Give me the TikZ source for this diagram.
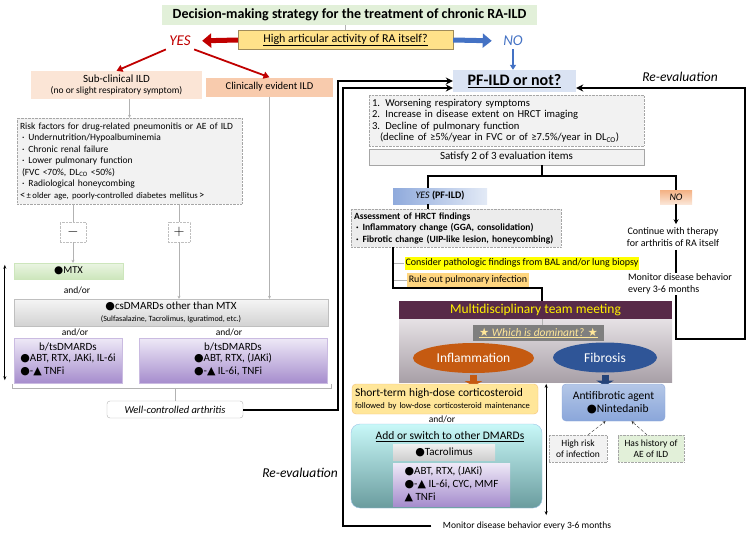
\documentclass[tikz,border=0pt]{standalone}
\usepackage{fontspec}
\setmainfont{Carlito}
\newfontfamily\symfont{DejaVu Sans}
\usetikzlibrary{arrows.meta, positioning, shapes.geometric}

\definecolor{titlegreen}{HTML}{E2F0D9}
\definecolor{qfill}{HTML}{FFE28A}
\definecolor{qdraw}{HTML}{A08C5A}
\definecolor{yesred}{HTML}{C00000}
\definecolor{noblue}{HTML}{4472C4}
\definecolor{subpeach}{HTML}{FBE5D6}
\definecolor{clinpeach}{HTML}{F8CBAD}
\definecolor{riskgray}{HTML}{F2F2F2}
\definecolor{mtxT}{HTML}{EAF5E2}
\definecolor{mtxB}{HTML}{CDE6BC}
\definecolor{purT}{HTML}{EEE9F7}
\definecolor{purB}{HTML}{A68DCD}
\definecolor{pfblue}{HTML}{DAE3F3}
\definecolor{yesL}{HTML}{8FAADC}
\definecolor{yesR}{HTML}{E3EAF6}
\definecolor{noT}{HTML}{F4B183}
\definecolor{noB}{HTML}{FBE5D6}
\definecolor{balyellow}{HTML}{FFFF00}
\definecolor{ruleorange}{HTML}{FFD680}
\definecolor{mdtplum}{HTML}{582A48}
\definecolor{mdtT}{HTML}{E6E1E5}
\definecolor{mdtB}{HTML}{A8A0A7}
\definecolor{whichgray}{HTML}{7F7F7F}
\definecolor{inflorange}{HTML}{C55A11}
\definecolor{fibblue}{HTML}{2F5597}
\definecolor{steroidfill}{HTML}{FFE699}
\definecolor{steroiddraw}{HTML}{F4C07A}
\definecolor{addT}{HTML}{C8F8F8}
\definecolor{addB}{HTML}{6A9C9E}
\definecolor{adddraw}{HTML}{9DC3E6}
\definecolor{antiT}{HTML}{B4C7E7}
\definecolor{antiB}{HTML}{8AA6DA}
\definecolor{histgreen}{HTML}{E2F0D9}

\newcommand{\circfill}{{\symfont ●}}
\newcommand{\trifill}{{\symfont ▲}}
\newcommand{\starsym}{{\symfont ★}}

\begin{document}
\begin{tikzpicture}[x=1pt, y=-1pt, >=Stealth, font=\fontsize{9.5}{11.5}\selectfont,
  thinline/.style={draw=gray!60, line width=0.6pt},
  thinarr/.style={thinline, -{Stealth[length=3pt, width=3pt]}},
  thick line/.style={line width=1.4pt},
  loopline/.style={line width=2pt, -{Stealth[length=7pt, width=7pt]}},
  dotbox/.style={draw=gray!70, densely dotted, fill=riskgray},
  purplebox/.style={draw=purB!60, top color=purT, bottom color=purB, inner sep=1pt, font=\fontsize{11}{13}\selectfont},
  bigarrow/.style={line width=5pt, -{Triangle[length=9pt, width=14pt]}, shorten >=8pt}]
\useasboundingbox (0,0) rectangle (749,533);

% Title and first question
\node[fill=titlegreen, minimum width=375pt, minimum height=20pt, font=\bfseries\fontsize{14}{16}\selectfont] (title) at (349.5,15) {Decision-making strategy for the treatment of chronic RA-ILD};
\node[draw=qdraw, fill=qfill, minimum width=215pt, minimum height=18pt, font=\fontsize{12}{14}\selectfont] (quest) at (345.5,40) {\underline{High articular activity of RA itself?}};
\node[text=yesred, font=\itshape\fontsize{15}{16}\selectfont] (yes) at (180,41) {YES};
\node[text=noblue, font=\itshape\fontsize{15}{16}\selectfont] (no) at (513,41) {NO};
\draw[gray!60] (quest.north) -- (title.south -| quest.north);
\draw[yesred, bigarrow] (quest.west) -- (yes.east);
\draw[noblue, bigarrow] (quest.east) -- (no.west);

% YES branch
\node[fill=subpeach, minimum width=171pt, minimum height=28pt, align=center, inner sep=1pt] (sub) at (116.5,85) {{\fontsize{11}{13}\selectfont Sub-clinical ILD}\\{\fontsize{9.5}{11}\selectfont (no or slight respiratory symptom)}};
\node[fill=clinpeach, minimum width=127pt, minimum height=19pt, font=\fontsize{10.5}{12}\selectfont] (clin) at (269.5,87) {Clinically evident ILD};
\draw[yesred, line width=1.8pt, -{Triangle[length=6pt, width=7pt]}] (yes.south west) -- (sub.north);
\draw[yesred, line width=1.8pt, -{Triangle[length=6pt, width=7pt]}] (yes.south east) -- (clin.north);

\node[dotbox, minimum width=225pt, minimum height=86pt, text width=219pt, align=left, inner sep=3pt] (risk) at (129.5,161) {Risk factors for drug-related pneumonitis or AE of ILD\\
\hspace*{2pt}·\hspace{4pt}Undernutrition/Hypoalbuminemia\\
\hspace*{2pt}·\hspace{4pt}Chronic renal failure\\
\hspace*{2pt}·\hspace{4pt}Lower pulmonary function\\
\hspace*{2pt}(FVC <70\%, DL\textsubscript{CO} <50\%)\\
\hspace*{2pt}·\hspace{4pt}Radiological honeycombing\\
{\fontsize{8.7}{10}\selectfont{\fontsize{10.5}{10}\selectfont<}\,±\,older age, poorly-controlled diabetes mellitus\,{\fontsize{10.5}{10}\selectfont>}}};
\draw[thinarr] (sub.south -| risk.north) -- (risk.north);

\node[draw=gray!50, densely dotted, fill=white, minimum width=26pt, minimum height=20pt, font=\fontsize{14}{14}\selectfont] (minus) at (73,232) {$-$};
\node[draw=gray!50, densely dotted, fill=white, minimum width=22pt, minimum height=20pt, font=\fontsize{14}{14}\selectfont] (plus) at (179,232) {$+$};

% Drugs for arthritis
\node[draw=mtxB, top color=mtxT, bottom color=mtxB, minimum width=109pt, minimum height=16pt, inner sep=1pt, font=\fontsize{10.5}{12}\selectfont] (mtx) at (68.5,271) {\circfill MTX};
\node (andor1) at (77,290) {and/or};
\node[draw=gray!50, top color=gray!8, bottom color=gray!35, minimum width=314pt, minimum height=27pt, align=center, inner sep=1pt] (cs) at (171,312.5) {{\fontsize{11}{12}\selectfont\circfill csDMARDs other than MTX}\\{\fontsize{8}{9}\selectfont (Sulfasalazine, Tacrolimus, Iguratimod, etc.)}};
\node (andor2) at (75,332) {and/or};
\node (andor3) at (229,332) {and/or};
\node[purplebox, minimum width=108pt, minimum height=45pt, align=center] (btsl) at (68,360.5) {b/tsDMARDs\\\begin{tabular}{@{}l@{}}\circfill ABT, RTX, JAKi, IL-6i\\\circfill-\trifill\ TNFi\end{tabular}};
\node[purplebox, minimum width=188pt, minimum height=45pt, align=center] (btsr) at (233,360.5) {b/tsDMARDs\\\begin{tabular}{@{}l@{}}\circfill ABT, RTX, (JAKi)\\\circfill-\trifill\ IL-6i, TNFi\end{tabular}};
\node[draw=gray!60, fill=white, rounded corners=3pt, minimum width=136pt, minimum height=17pt, font=\itshape\fontsize{10.5}{12}\selectfont] (well) at (175,409.5) {Well-controlled arthritis};

\draw[thinline] (risk.south -| minus) -- (minus.north);
\draw[thinarr] (minus.south) -- (mtx.north -| minus.south);
\draw[thinline] (risk.south -| plus) -- (plus.north);
\draw[thinarr] (plus.south) -- (cs.north -| plus.south);
\draw[thinarr] (clin.south) -- (cs.north -| clin.south);
\draw[thinline] ([xshift=-2pt, yshift=-1pt]btsl.south west) -- ([xshift=-2pt, yshift=-5pt]btsl.south west) -- ([xshift=4pt, yshift=-5pt]btsr.south east) -- ([xshift=4pt, yshift=-1pt]btsr.south east);
\draw[thinline] (well.north) -- ++(0,-12);
\draw[{Stealth[length=4pt, width=3pt]}-{Stealth[length=4pt, width=3pt]}, line width=0.8pt] ([xshift=-9pt, yshift=-2pt]mtx.north west) -- ([xshift=-9pt, yshift=3pt]btsl.south west);

% NO branch: PF-ILD assessment
\node[fill=pfblue, minimum width=123pt, minimum height=22pt, font=\bfseries\fontsize{16}{18}\selectfont] (pf) at (514.5,81) {\underline{PF-ILD or not?}};
\draw[noblue, line width=1.5pt, -{Triangle[length=5pt, width=6pt]}] (no.south) -- (pf.north -| no.south);
\node[dotbox, minimum width=275pt, minimum height=51pt, text width=269pt, align=left, inner sep=3pt, font=\fontsize{10.6}{11.5}\selectfont] (crit) at (506.5,120.5) {1. Worsening respiratory symptoms\\2. Increase in disease extent on HRCT imaging\\3. Decline of pulmonary function\\\hspace*{8pt}(decline of ≥5\%/year in FVC or of ≥7.5\%/year in DL\textsubscript{CO})};
\node[draw=gray!70, fill=riskgray, minimum width=275pt, minimum height=16pt, inner sep=1pt, font=\fontsize{11}{12}\selectfont] (sat) at (506.5,157) {Satisfy 2 of 3 evaluation items};

\coordinate (split) at (542,176);
\node[left color=yesL, right color=yesR, minimum width=94pt, minimum height=16pt, inner sep=1pt, font=\fontsize{10}{12}\selectfont] (pfyes) at (440,196) {\textit{YES} \textbf{(PF-ILD)}};
\node[top color=noT, bottom color=noB, minimum width=32pt, minimum height=14pt, inner sep=1pt, font=\itshape\fontsize{10}{12}\selectfont] (pfno) at (676,197) {NO};
\draw[thick line] (sat.south -| split) -- (split);
\draw[thick line] ([xshift=-12pt]pfyes.north) |- (split) -| (pfno.north);

\node[dotbox, fill=gray!15, minimum width=210pt, minimum height=38pt, text width=204pt, align=left, inner sep=3pt, font=\bfseries\fontsize{9.5}{11.5}\selectfont] (hrct) at (456,228) {Assessment of HRCT findings\\
\hspace*{2pt}·\hspace{4pt}Inflammatory change (GGA, consolidation)\\
\hspace*{2pt}·\hspace{4pt}Fibrotic change (UIP-like lesion, honeycombing)};
\draw[thick line] ([xshift=-12pt]pfyes.south) -- ([xshift=-12pt]pfyes.south |- hrct.north);

\node[align=center, font=\fontsize{10}{11.5}\selectfont] (cont) at (673,237) {Continue with therapy\\for arthritis of RA itself};
\node[align=left, fill=white, inner sep=1pt, font=\fontsize{10}{11.5}\selectfont] (monr) at (680,284) {Monitor disease behavior\\every 3-6 months};
\draw[thick line, -{Stealth[length=5pt, width=5pt]}] (pfno.south) -- (cont.north -| pfno.south);
\draw[thick line] (cont.south -| pfno.south) -- (monr.north -| pfno.south);

\node[fill=balyellow, minimum width=230pt, minimum height=13pt, inner sep=1pt, font=\fontsize{10}{11}\selectfont] (bal) at (522,263) {Consider pathologic findings from BAL and/or lung biopsy};
\node[fill=ruleorange, minimum width=122pt, minimum height=14pt, inner sep=1pt, font=\fontsize{10}{11}\selectfont] (inf) at (468,280) {Rule out pulmonary infection};
\coordinate (hrctout) at ([xshift=-63pt]hrct.south);
\coordinate (mdtin) at (542,288);
\draw[thinline] (bal.west) -- (bal.west -| hrctout);
\draw[thinline] (inf.west) -- (inf.west -| hrctout);

% Multidisciplinary team meeting
\node[fill=mdtplum, text=yellow, minimum width=273pt, minimum height=18pt, inner sep=1pt, font=\fontsize{13.5}{15}\selectfont] (mdt) at (535.5,310) {Multidisciplinary team meeting};
\node[top color=mdtT, bottom color=mdtB, minimum width=273pt, minimum height=63pt, inner sep=0pt] (mdtbody) at (535.5,350.5) {};
\draw[thick line] (hrctout) |- (mdtin) -- (mdtin |- mdt.north);
\node[fill=whichgray, text=steroidfill, minimum width=131pt, minimum height=16pt, inner sep=1pt, font=\itshape\fontsize{11.5}{13}\selectfont] (which) at (538.5,333) {\underline{\starsym\ Which is dominant? \starsym}};
\draw[thinline] (mdt.south -| mdtin) -- (which.north -| mdtin);
\node[ellipse, fill=inflorange, text=white, minimum width=121pt, minimum height=30pt, inner sep=0pt, font=\fontsize{13.5}{15}\selectfont] (infl) at (473.5,358) {Inflammation};
\node[ellipse, fill=fibblue, text=white, minimum width=104pt, minimum height=30pt, inner sep=0pt, font=\fontsize{13.5}{15}\selectfont] (fib) at (605,357.5) {Fibrosis};
\draw[inflorange, line width=7pt, -{Triangle[length=5pt, width=17pt]}] ([yshift=-2pt]infl.south) -- ([yshift=-13pt]infl.south);
\draw[fibblue!80!black, line width=7pt, -{Triangle[length=5pt, width=17pt]}] ([yshift=-2pt]fib.south) -- ([yshift=-13pt]fib.south);

% Treatment for inflammation
\node[draw=steroiddraw, fill=steroidfill, rounded corners=4pt, minimum width=186pt, minimum height=30pt, text width=180pt, align=left, inner sep=3pt] (steroid) at (445,399) {{\fontsize{11.5}{13}\selectfont Short-term high-dose corticosteroid}\\{\fontsize{8.5}{10}\selectfont followed by low-dose corticosteroid maintenance}};
\node (andor4) at (442,419) {and/or};
\node[draw=adddraw, top color=addT, bottom color=addB, rounded corners=9pt, minimum width=191pt, minimum height=84pt] (add) at (446.5,466) {};
\node[font=\fontsize{11.5}{13}\selectfont] (addtitle) at (450,437) {\underline{Add or switch to other DMARDs}};
\node[top color=gray!12, bottom color=gray!38, minimum width=102pt, minimum height=16pt, inner sep=1pt, font=\fontsize{11}{12}\selectfont] (tac) at (444,452) {\circfill Tacrolimus};
\node[purplebox, draw=none, minimum width=117pt, minimum height=43pt, align=left] (dmard) at (451.5,484.5) {\begin{tabular}{@{}l@{}}\circfill ABT, RTX, (JAKi)\\\circfill-\trifill\ IL-6i, CYC, MMF\\\trifill\ TNFi\end{tabular}};
\draw[{Stealth[length=4pt, width=3pt]}-{Stealth[length=4pt, width=3pt]}, line width=0.8pt] ([xshift=4pt]steroid.north -| add.east) -- ([xshift=4pt, yshift=-7pt]add.south east);

% Treatment for fibrosis
\node[draw=antiB, top color=antiT, bottom color=antiB, rounded corners=4pt, minimum width=103pt, minimum height=37pt, align=left, inner sep=2pt, font=\fontsize{11.5}{13}\selectfont] (anti) at (613.5,402.5) {Antifibrotic agent\\\hspace*{14pt}\circfill Nintedanib};
\node[dotbox, minimum width=58pt, minimum height=27pt, align=center, inner sep=1pt] (highrisk) at (578,448.5) {High risk\\of infection};
\node[dotbox, fill=histgreen, minimum width=66pt, minimum height=27pt, align=center, inner sep=1pt] (hist) at (651,448.5) {Has history of\\AE of ILD};
\draw[densely dashed, gray!40!black, -{Stealth[length=3pt, width=3pt]}] ([xshift=10pt]highrisk.north) -- ([xshift=-8pt]anti.south);
\draw[densely dashed, gray!40!black, -{Stealth[length=3pt, width=3pt]}] ([xshift=-4pt]hist.north) -- ([xshift=18pt]anti.south);

% Re-evaluation loops
\node[font=\fontsize{9.5}{11}\selectfont] (monb) at (527,526) {Monitor disease behavior every 3-6 months};
\node[font=\itshape\fontsize{13.5}{15}\selectfont] (reevalr) at (680,77) {Re-evaluation};
\node[font=\itshape\fontsize{13.5}{15}\selectfont] (reevall) at (300,473) {Re-evaluation};
\coordinate (loopA) at (338,81);
\coordinate (loopB) at (343,88);
\coordinate (loopC) at (745,339);
\draw[loopline] (well.east) -| (loopA) -- (pf.west |- loopA);
\draw[loopline] ([xshift=-8pt]monb.west) -| (loopB) -- (pf.west |- loopB);
\draw[loopline] (monr.south -| pfno.south) |- (loopC) |- (pf.east |- loopB);

\end{tikzpicture}
\end{document}
